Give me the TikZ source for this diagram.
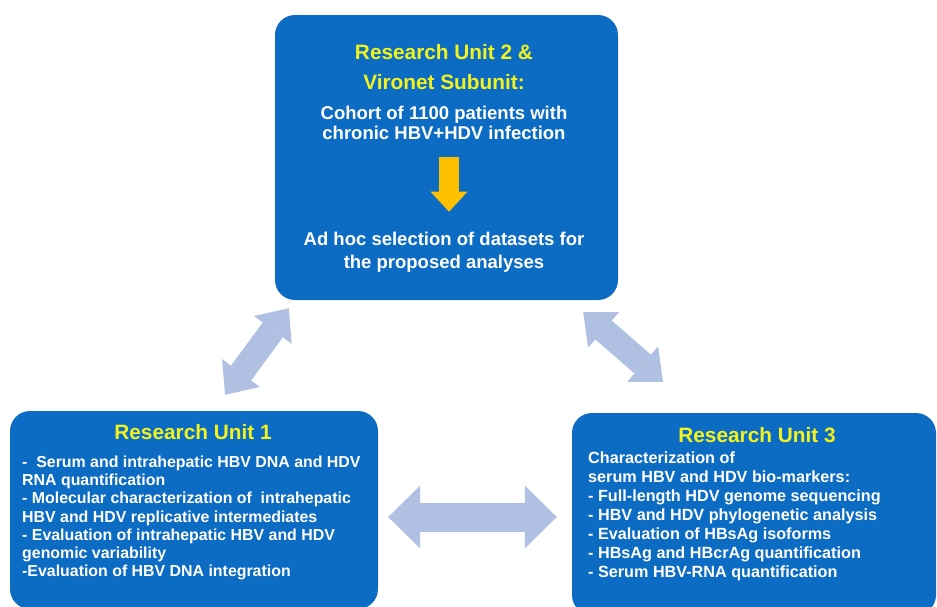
\documentclass[tikz,border=0pt]{standalone}
\usepackage{fontspec}
\setmainfont{Liberation Sans}
\usetikzlibrary{arrows.meta,positioning,calc}
\definecolor{unitblue}{HTML}{0C6CC4}
\definecolor{headyellow}{HTML}{F2F21E}
\definecolor{linkblue}{HTML}{B0C0E2}
\definecolor{gold}{HTML}{FFC000}
\tikzset{
  unitbox/.style={fill=unitblue, rounded corners=20pt, inner sep=0pt},
  headtxt/.style={font=\fontsize{20.8}{30}\selectfont\bfseries, text=headyellow,
                  align=center, inner sep=0pt},
  bodytxt/.style={font=\fontsize{15.9}{18.3}\selectfont\bfseries, text=white,
                  align=left, inner sep=0pt},
  cohorttxt/.style={font=\fontsize{18.5}{20}\selectfont\bfseries, text=white,
                  align=center, inner sep=0pt},
  linkar/.style={draw=linkblue, line width=29pt,
                 {Triangle[width=63pt,length=32pt,line width=0pt]}-{Triangle[width=63pt,length=32pt,line width=0pt]}},
  diagar/.style={draw=linkblue, line width=25pt,
                 {Triangle[width=47pt,length=27pt,line width=0pt]}-{Triangle[width=47pt,length=27pt,line width=0pt]}},
  downar/.style={draw=gold, line width=20pt,
                 -{Triangle[width=37pt,length=20pt,line width=0pt]}}
}

\begin{document}
\begin{tikzpicture}[x=1pt,y=-1pt]
  \useasboundingbox (0,0) rectangle (937,606);
  \clip (0,0) rectangle (937,606);

  % the three research units
  \node[unitbox, minimum width=343pt, minimum height=285pt] (ru2) at (446.5,157.5) {};
  \node[unitbox, minimum width=368pt, minimum height=198pt] (ru1) at (194,510) {};
  \node[unitbox, minimum width=364pt, minimum height=202pt] (ru3) at (754,514) {};

  % unit 2 and subunit
  \node[headtxt] (ru2head) at (444,67) {Research Unit 2 \&\\Vironet Subunit:};
  \node[cohorttxt] (cohort) at (444,123)
    {Cohort of 1100 patients with\\chronic HBV+HDV infection};
  \node[cohorttxt, font=\fontsize{18.5}{23}\selectfont\bfseries] (selection) at (444,252)
    {Ad hoc selection of datasets for\\the proposed analyses};
  \draw[downar, shorten <=17pt, shorten >=20pt]
    ([xshift=5pt]cohort.south) -- ([xshift=5pt]selection.north);

  % unit 1
  \node[headtxt] (ru1head) at (193,432) {Research Unit 1};
  \node[bodytxt, anchor=west] (ru1body) at (22,518)
    {-\ \ Serum and intrahepatic HBV DNA and HDV\\
     RNA quantification\\
     - Molecular characterization of \ intrahepatic\\
     HBV and HDV replicative intermediates\\
     - Evaluation of intrahepatic HBV and HDV\\
     genomic variability\\
     -Evaluation of HBV DNA integration};

  % unit 3
  \node[headtxt] (ru3head) at (757,435) {Research Unit 3};
  \node[bodytxt, font=\fontsize{16.2}{19}\selectfont\bfseries, anchor=west] (ru3body) at (588,516)
    {Characterization of\\
     serum HBV and HDV bio-markers:\\
     - Full-length HDV genome sequencing\\
     - HBV and HDV phylogenetic analysis\\
     - Evaluation of HBsAg isoforms\\
     - HBsAg and HBcrAg quantification\\
     - Serum HBV-RNA quantification};

  % exchanges between units
  \draw[diagar] ($(ru1.north)+(31,-16)$) -- ($(ru2.south west)+(14,8)$);
  \draw[diagar] ($(ru2.south east)+(-35,12)$) -- ($(ru3.north)+(-91,-31)$);
  \draw[linkar] ($(ru1.east)+(10,7)$) -- ($(ru3.west)+(-15,3)$);
\end{tikzpicture}
\end{document}
